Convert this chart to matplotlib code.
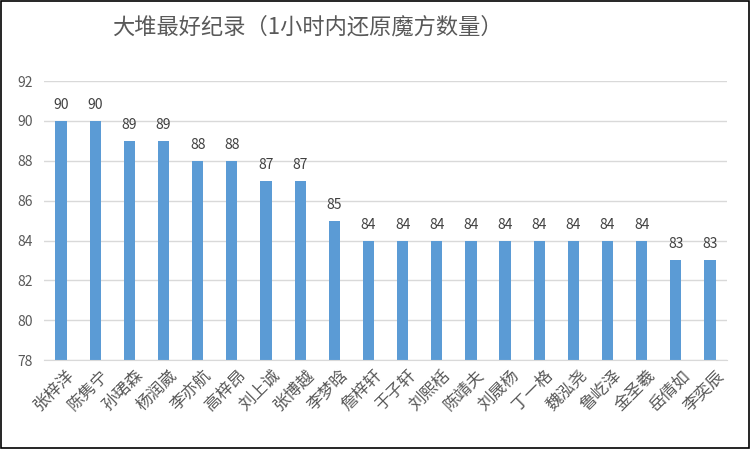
import matplotlib.pyplot as plt
from matplotlib.patches import Rectangle

plt.rcParams['font.family'] = ['Noto Sans CJK SC', 'DejaVu Sans']

# data
names = ["张梓洋", "陈隽宁", "孙珺森", "杨润崴", "李亦航", "高梓昂", "刘上诚", "张博越",
         "李梦晗", "詹梓轩", "于子轩", "刘熙栝", "陈靖夫", "刘晟杨", "丁一格", "魏泓尧",
         "鲁屹泽", "金圣羲", "岳倩如", "李奕辰"]
counts = [90, 90, 89, 89, 88, 88, 87, 87, 85, 84, 84, 84, 84, 84, 84, 84, 84, 84, 83, 83]
yticks = [78, 80, 82, 84, 86, 88, 90, 92]
title = "大堆最好纪录（1小时内还原魔方数量）"

fig = plt.figure(figsize=(7.5, 4.49), dpi=100)
ax = fig.add_axes([0.0587, 0.198, 0.9107, 0.6214])

x = range(len(names))
ax.bar(x, counts, width=0.33, color="#5B9BD5", zorder=2)
for i, v in zip(x, counts):
    ax.text(i, v + 0.45, str(v), ha="center", va="bottom", fontsize=10, color="#404040")

ax.set_xlim(-0.5, len(names) - 0.5)
ax.set_ylim(78, 92)
ax.set_yticks(yticks)
ax.set_yticklabels([str(t) for t in yticks], fontsize=10, color="#595959")
ax.set_xticks([i + 0.15 for i in x])
ax.set_xticklabels(names, rotation=45, ha="right", rotation_mode="anchor",
                   fontsize=12, color="#595959")
ax.tick_params(axis="x", length=0, pad=5)
ax.tick_params(axis="y", length=0, pad=8)
ax.grid(axis="y", color="#D9D9D9", linewidth=1, zorder=0)
for s in ["top", "right", "left"]:
    ax.spines[s].set_visible(False)
ax.spines["bottom"].set_color("#D9D9D9")

fig.text(0.41, 0.94, title, ha="center", va="center", fontsize=16, color="#595959")
fig.patches.append(Rectangle((0.001, 0.002), 0.997, 0.995, transform=fig.transFigure,
                             fill=False, edgecolor="black", linewidth=1.2))

fig.savefig("out.png", dpi=100)
